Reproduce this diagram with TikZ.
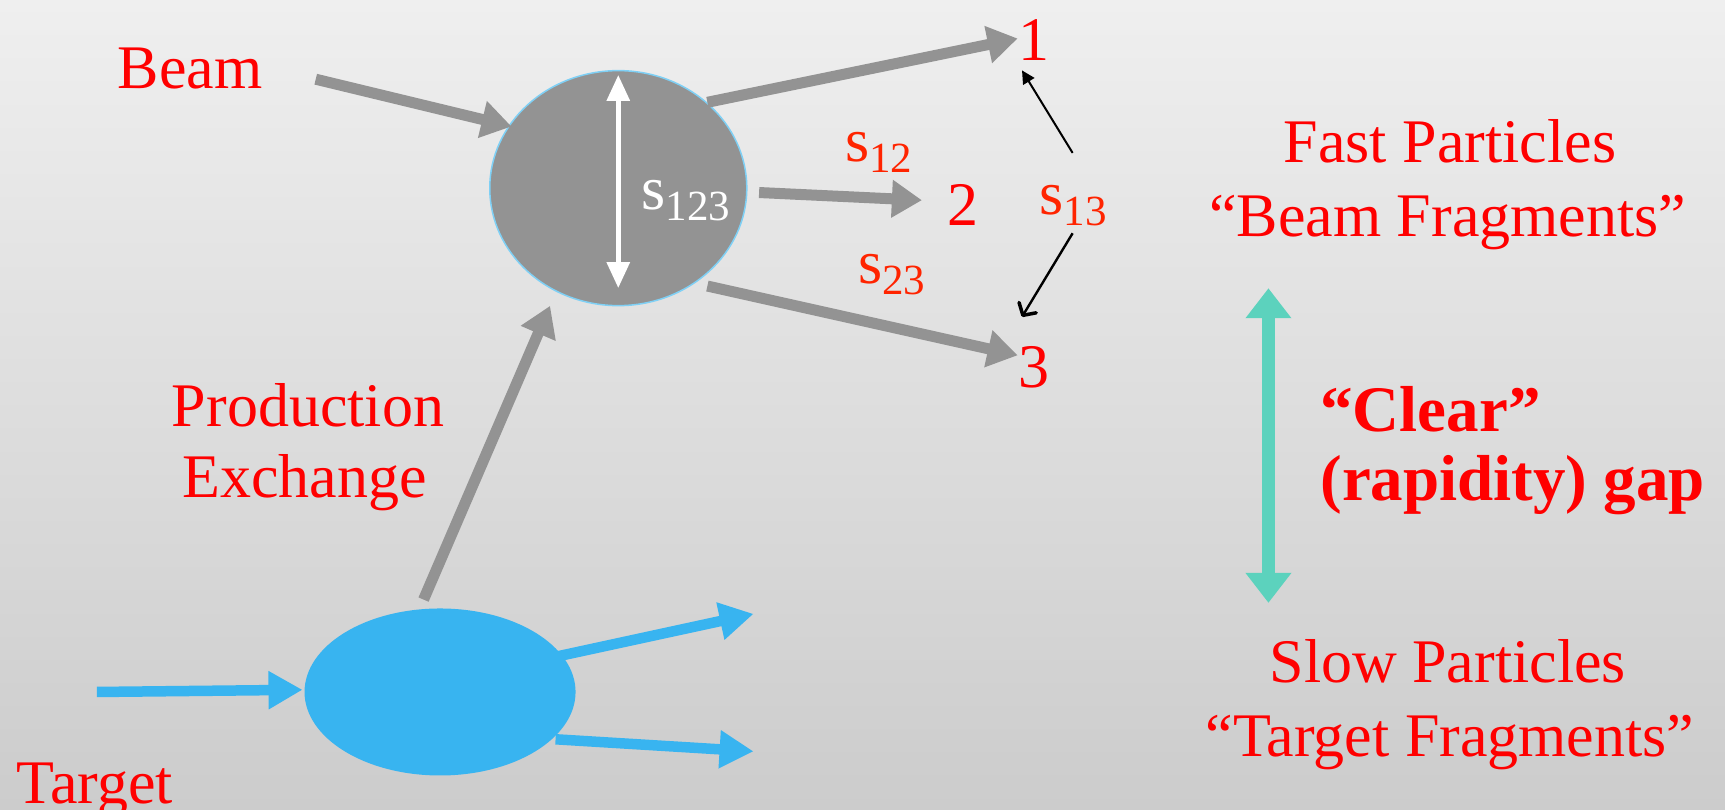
\documentclass[tikz,border=0pt]{standalone}
\usepackage{fontspec}
\setmainfont{Liberation Serif}
\usetikzlibrary{arrows.meta,shapes.geometric}
\definecolor{bgtop}{HTML}{EFEFEF}
\definecolor{bgbot}{HTML}{CCCCCC}
\definecolor{pgray}{HTML}{939393}
\definecolor{pblue}{HTML}{38B4F0}
\definecolor{pteal}{HTML}{5CD2BD}
\definecolor{pred}{HTML}{FF0000}
\definecolor{sred}{HTML}{FF2400}
\definecolor{rimblue}{HTML}{7FD0F5}
\newcommand\fbig{\fontsize{62}{70}\selectfont}
\newcommand\fsub{\fontsize{43}{46}\selectfont}
\newcommand\fbld{\fontsize{65}{72}\selectfont\bfseries}
\newcommand\sub[1]{\raisebox{-11pt}{\fsub #1}}
\begin{document}
\begin{tikzpicture}[x=1.1pt,y=-1.1pt,
  lbl/.style={inner sep=0pt,text=pred,font=\fbig,anchor=base},
  slbl/.style={inner sep=0pt,text=sred,font=\fbig,anchor=base west},
  garrow/.style={draw=pgray,line width=11pt,-{Triangle[length=30pt,width=36pt]}},
  barrow/.style={draw=pblue,line width=10.5pt,-{Triangle[length=34pt,width=36pt]}},
  karrow/.style={draw=black,line width=2pt,-{Triangle[length=13pt,width=13pt]}},
  kbarb/.style={draw=black,line width=2.4pt,-{Straight Barb[length=9pt,width=20pt,line width=3.5pt,round]}},
  warrow/.style={draw=white,line width=5.5pt,{Triangle[length=26pt,width=22pt]}-{Triangle[length=26pt,width=22pt]}},
  tarrow/.style={draw=pteal,line width=13pt,{Triangle[length=30pt,width=44pt]}-{Triangle[length=30pt,width=44pt]}}]
\useasboundingbox (0,0) rectangle (1568,736);
\shade[top color=bgtop,bottom color=bgbot] (0,0) rectangle (1568,736);

% blobs
\node[ellipse,fill=pgray,draw=rimblue,line width=1.5pt,minimum width=257pt,minimum height=235pt,inner sep=0pt] (c) at (562,171) {};
\node[ellipse,fill=pblue,minimum width=271pt,minimum height=167pt,inner sep=0pt] (t) at (400,629) {};

% coordinates
\coordinate (beamS) at (287,72);
\coordinate (beamE) at (465,115);
\coordinate (o1S) at (643,93);
\coordinate (o1E) at (925,35);
\coordinate (o2S) at (690,175);
\coordinate (o2E) at (838,182);
\coordinate (o3S) at (643,260);
\coordinate (o3E) at (925,323);
\coordinate (prS) at (385,545);
\coordinate (prE) at (500,278);
\coordinate (tinS) at (88,629);
\coordinate (tinE) at (275,627);
\coordinate (tu1S) at (505,597);
\coordinate (tu1E) at (685,558);
\coordinate (tu2S) at (505,672);
\coordinate (tu2E) at (685,683);
\coordinate (wT) at (562,68);
\coordinate (wB) at (562,262);
\coordinate (gT) at (1153,262);
\coordinate (gB) at (1153,548);
\coordinate (k1S) at (975,139);
\coordinate (k1E) at (929,64);
\coordinate (k3S) at (975,212);
\coordinate (k3E) at (929,288);

% gray arrows
\draw[garrow] (beamS) -- (beamE);
\draw[garrow] (o1S) -- (o1E);
\draw[garrow] (o2S) -- (o2E);
\draw[garrow] (o3S) -- (o3E);
\draw[garrow] (prS) -- (prE);
% blue arrows
\draw[barrow] (tinS) -- (tinE);
\draw[barrow] (tu1S) -- (tu1E);
\draw[barrow] (tu2S) -- (tu2E);
% white arrow
\draw[warrow] (wT) -- (wB);
% teal
\draw[tarrow] (gT) -- (gB);
% black
\draw[karrow] (k1S) -- (k1E);
\draw[kbarb] (k3S) -- (k3E);

% labels
\node[lbl,anchor=base west] (beam) at (107,80) {Beam};
\node[lbl] (n1) at (940,55) {1};
\node[lbl] (n2) at (875,205) {2};
\node[lbl] (n3) at (940,352) {3};
\node[slbl,text=white] (s123) at (583,190) {s\sub{123}};
\node[slbl] (s12) at (768,147) {s\sub{12}};
\node[slbl] (s13) at (945,195) {s\sub{13}};
\node[slbl] (s23) at (780,258) {s\sub{23}};
\node[lbl] (prod) at (280,388) {Production};
\node[lbl] (exch) at (277,452) {Exchange};
\node[lbl,anchor=base west] (targ) at (15,730) {Target};
\node[lbl] (fast) at (1318,148) {Fast Particles};
\node[lbl] (bfrag) at (1316,215) {``Beam Fragments''};
\node[lbl,font=\fbld,anchor=base west] (clear) at (1200,392) {``Clear''};
\node[lbl,font=\fbld,anchor=base west] (gap) at (1200,455) {(rapidity) gap};
\node[lbl] (slow) at (1316,620) {Slow Particles};
\node[lbl] (tfrag) at (1318,688) {``Target Fragments''};
\end{tikzpicture}
\end{document}
